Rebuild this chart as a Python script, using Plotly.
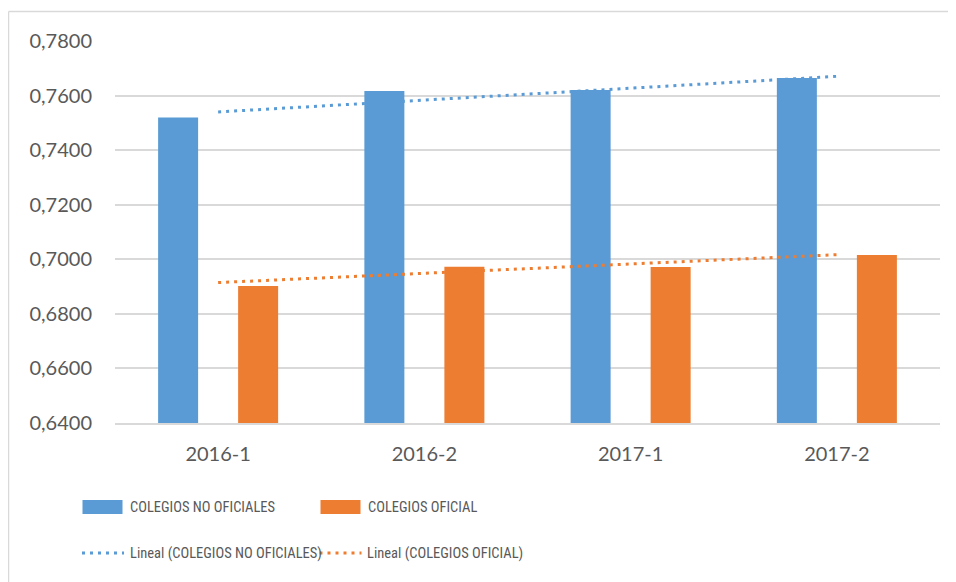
import numpy as np
import plotly.graph_objects as go

categories = ["2016-1", "2016-2", "2017-1", "2017-2"]
no_oficiales = [0.7520, 0.7617, 0.7620, 0.7664]
oficial = [0.6902, 0.6973, 0.6972, 0.7016]
y_ticks = [0.64, 0.66, 0.68, 0.70, 0.72, 0.74, 0.76, 0.78]
series_names = ["COLEGIOS NO OFICIALES", "COLEGIOS OFICIAL"]
trend_names = ["Lineal (COLEGIOS NO OFICIALES)", "Lineal (COLEGIOS OFICIAL)"]

BLUE = "#5B9BD5"
ORANGE = "#ED7D31"
GRID = "#D9D9D9"
TXT = "#595959"

# page body has an 8px margin: the figure sits at (8, 8) in the window
OFF = 8
W, H = 956 - OFF, 582 - OFF
L, R, T, B = 115 - OFF, 16, 41 - OFF, 159
PW, PH = W - L - R, H - T - B


def px(x):
    # window pixel -> paper x
    return (x - OFF - L) / PW


def py(y):
    # window pixel -> paper y
    return (H - B - (y - OFF)) / PH


def trend(vals):
    xs = np.arange(1, len(vals) + 1)
    m, c = np.polyfit(xs, vals, 1)
    return list(m * xs + c)


fig = go.Figure()
fig.add_trace(go.Bar(x=categories, y=no_oficiales, name=series_names[0],
                     marker=dict(color=BLUE, line=dict(width=0)), showlegend=False))
fig.add_trace(go.Bar(x=categories, y=oficial, name=series_names[1],
                     marker=dict(color=ORANGE, line=dict(width=0)), showlegend=False))
fig.add_trace(go.Scatter(x=categories, y=trend(no_oficiales), mode="lines", name=trend_names[0],
                         line=dict(color=BLUE, width=3, dash="3px,5px"), showlegend=False))
fig.add_trace(go.Scatter(x=categories, y=trend(oficial), mode="lines", name=trend_names[1],
                         line=dict(color=ORANGE, width=3, dash="3px,5px"), showlegend=False))

shapes = []
annotations = []
# chart border (top and left edges visible)
shapes.append(dict(type="line", xref="paper", yref="paper", x0=px(8.5), x1=px(956 + 5), y0=py(11.5), y1=py(11.5),
                   line=dict(color=GRID, width=1.5)))
shapes.append(dict(type="line", xref="paper", yref="paper", x0=px(8.5), x1=px(8.5), y0=py(11.5), y1=py(582 + 5),
                   line=dict(color=GRID, width=1.5)))

# legend
legend_items = [
    ("bar", BLUE, series_names[0], 82.5, 507),
    ("bar", ORANGE, series_names[1], 320.5, 507),
    ("line", BLUE, trend_names[0], 82, 553),
    ("line", ORANGE, trend_names[1], 319.5, 553),
]
for kind, col, name, x0, yc in legend_items:
    if kind == "bar":
        shapes.append(dict(type="rect", xref="paper", yref="paper", x0=px(x0), x1=px(x0 + 40),
                           y0=py(yc - 7), y1=py(yc + 7), fillcolor=col, line=dict(width=0)))
    else:
        shapes.append(dict(type="line", xref="paper", yref="paper", x0=px(x0), x1=px(x0 + 42),
                           y0=py(yc), y1=py(yc), line=dict(color=col, width=3, dash="3px,5px")))
    annotations.append(dict(x=px(x0 + 45.5), y=py(yc), xref="paper", yref="paper", xanchor="left",
                            yanchor="middle", showarrow=False, text=name,
                            font=dict(family="Roboto Condensed", size=14.5, color=TXT)))

fig.update_layout(
    width=W, height=H,
    margin=dict(l=L, r=R, t=T, b=B, pad=0),
    paper_bgcolor="white", plot_bgcolor="white",
    separators=",.",
    barmode="group", bargap=0.224, bargroupgap=0.5,
    font=dict(family="Lato, Open Sans, sans-serif", size=20, color=TXT),
    shapes=shapes, annotations=annotations,
    showlegend=False,
    xaxis=dict(type="category", showgrid=False, showline=True, linecolor=GRID, linewidth=1.5, ticks="",
               ticklabelstandoff=12, tickfont=dict(size=20, color=TXT)),
    yaxis=dict(range=[0.64, 0.78], tickvals=y_ticks, tickformat=".4f", showgrid=True,
               gridcolor=GRID, gridwidth=1.5, zeroline=False, showline=False, ticks="",
               ticklabelstandoff=22, tickfont=dict(size=20, color=TXT)),
)

fig.write_html("out.html")
